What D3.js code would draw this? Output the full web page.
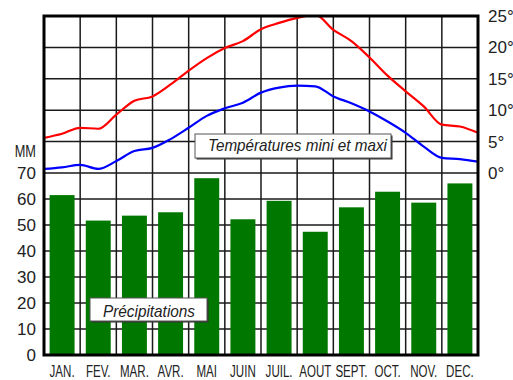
<!DOCTYPE html>
<html>
<head>
<meta charset="utf-8">
<script src="https://cdn.jsdelivr.net/npm/d3@7"></script>
<style>
  html, body { margin: 0; padding: 0; background: #fff; }
  svg { display: block; font-family: "Liberation Sans", Arial, Helvetica, sans-serif; }
</style>
</head>
<body>
<svg id="chart" width="513" height="380"></svg>
<script>
// ---- Data ----
const months = ["JAN.", "FEV.", "MAR.", "AVR.", "MAI", "JUIN", "JUIL.", "AOUT", "SEPT.", "OCT.", "NOV.", "DEC."];
const precipitation = [61.5, 51.7, 53.6, 54.9, 68, 52.2, 59.3, 47.4, 56.8, 62.8, 58.6, 66];
// temperature readings every half month (position in months from the start of January)
const tempPos = [0, 0.5, 1, 1.5, 2, 2.5, 3, 3.5, 4, 4.5, 5, 5.5, 6, 6.5, 7, 7.5, 8, 8.5, 9, 9.5, 10, 10.5, 11, 11.5, 12];
const tempMax = [5.6, 6.25, 7.2, 7.05, 9.3, 11.5, 12.2, 14.1, 16.3, 18.3, 19.9, 21.0, 22.9, 23.9, 24.7, 25.2, 22.8, 21.0, 18.4, 15.5, 13.0, 10.6, 7.7, 7.4, 6.4];
const tempMin = [0.65, 0.9, 1.3, 0.65, 1.9, 3.5, 4.0, 5.4, 7.2, 9.1, 10.3, 11.2, 12.8, 13.6, 13.9, 13.8, 12.2, 11.1, 9.8, 8.2, 6.4, 4.2, 2.4, 2.2, 1.8];
const mmTicks = [0, 10, 20, 30, 40, 50, 60, 70];
const tempTicks = [0, 5, 10, 15, 20, 25];

// ---- Layout ----
const L = 44, R = 478, T = 16, B = 355;
const svg = d3.select("#chart");

const xBand = d3.scaleBand().domain(months).range([L, R]).paddingInner(0.31).paddingOuter(0.155);
const xMonth = d3.scaleLinear().domain([0, 12]).range([L, R]);
const yMM = d3.scaleLinear().domain([0, 70]).range([B, 173]);
const yT = d3.scaleLinear().domain([0, 25]).range([173, T]);

// ---- Grid ----
const grid = svg.append("g").attr("stroke", "#1a1a1a").attr("stroke-width", 1.5);
grid.selectAll("line.v").data(d3.range(1, 12)).join("line")
  .attr("x1", d => xMonth(d)).attr("x2", d => xMonth(d))
  .attr("y1", T).attr("y2", B);
grid.selectAll("line.hT").data(tempTicks.slice(0, 5)).join("line")
  .attr("x1", L).attr("x2", R)
  .attr("y1", d => yT(d)).attr("y2", d => yT(d));
grid.selectAll("line.hM").data(mmTicks.slice(1, 7)).join("line")
  .attr("x1", L).attr("x2", R)
  .attr("y1", d => yMM(d)).attr("y2", d => yMM(d));

// ---- Bars ----
svg.append("g").selectAll("rect").data(months).join("rect")
  .attr("x", d => xBand(d))
  .attr("width", xBand.bandwidth())
  .attr("y", (d, i) => yMM(precipitation[i]))
  .attr("height", (d, i) => yMM(0) - yMM(precipitation[i]))
  .attr("fill", "#007800");

// ---- Temperature lines ----
svg.append("clipPath").attr("id", "plotclip").append("rect")
  .attr("x", L).attr("y", T).attr("width", R - L).attr("height", B - T);
const line = d3.line().x(d => xMonth(d[0])).y(d => yT(d[1])).curve(d3.curveMonotoneX);
const lines = svg.append("g").attr("clip-path", "url(#plotclip)");
lines.append("path").datum(tempPos.map((p, i) => [p, tempMax[i]]))
  .attr("d", line).attr("fill", "none").attr("stroke", "#ff0000").attr("stroke-width", 2.2);
lines.append("path").datum(tempPos.map((p, i) => [p, tempMin[i]]))
  .attr("d", line).attr("fill", "none").attr("stroke", "#0000ff").attr("stroke-width", 2.2);

// ---- Frame ----
svg.append("rect").attr("x", L).attr("y", T).attr("width", R - L).attr("height", B - T)
  .attr("fill", "none").attr("stroke", "#000").attr("stroke-width", 3);

// ---- Axes ----
const axL = svg.append("g").attr("transform", `translate(${L},0)`)
  .call(d3.axisLeft(yMM).tickValues(mmTicks).tickSize(0).tickPadding(8));
const axR = svg.append("g").attr("transform", `translate(${R},0)`)
  .call(d3.axisRight(yT).tickValues(tempTicks).tickSize(0).tickPadding(10).tickFormat(d => d + "°"));
const axB = svg.append("g").attr("transform", `translate(0,${B})`)
  .call(d3.axisBottom(xBand).tickSize(0).tickPadding(10));
[axL, axR, axB].forEach(a => {
  a.select(".domain").remove();
  a.selectAll("text").attr("font-family", '"Liberation Sans", Arial, sans-serif').attr("fill", "#222");
});
axL.selectAll("text").attr("font-size", 17);
axR.selectAll("text").attr("font-size", 17);
axB.selectAll("text").attr("font-size", 17).attr("transform", "scale(0.68,1)");

svg.append("text").text("MM")
  .attr("x", 36).attr("y", 157).attr("text-anchor", "end")
  .attr("font-size", 17).attr("fill", "#222")
  .attr("transform", "translate(36,0) scale(0.75,1) translate(-36,0)");

// ---- Label boxes ----
function labelBox(x, y, w, h, txt, tx, ty, tl) {
  const g = svg.append("g");
  g.append("rect").attr("x", x + 1.5).attr("y", y + 1.5).attr("width", w).attr("height", h).attr("fill", "#333");
  g.append("rect").attr("x", x).attr("y", y).attr("width", w).attr("height", h)
    .attr("fill", "#fff").attr("stroke", "#555").attr("stroke-width", 1);
  g.append("text").text(txt).attr("x", tx).attr("y", ty)
    .attr("font-size", 17).attr("font-style", "italic").attr("fill", "#222")
    .attr("textLength", tl).attr("lengthAdjust", "spacingAndGlyphs");
}
labelBox(195, 134, 196, 24, "Températures mini et maxi", 208, 151, 179);
labelBox(90, 298, 117, 23, "Précipitations", 103, 317, 92);
</script>
</body>
</html>
